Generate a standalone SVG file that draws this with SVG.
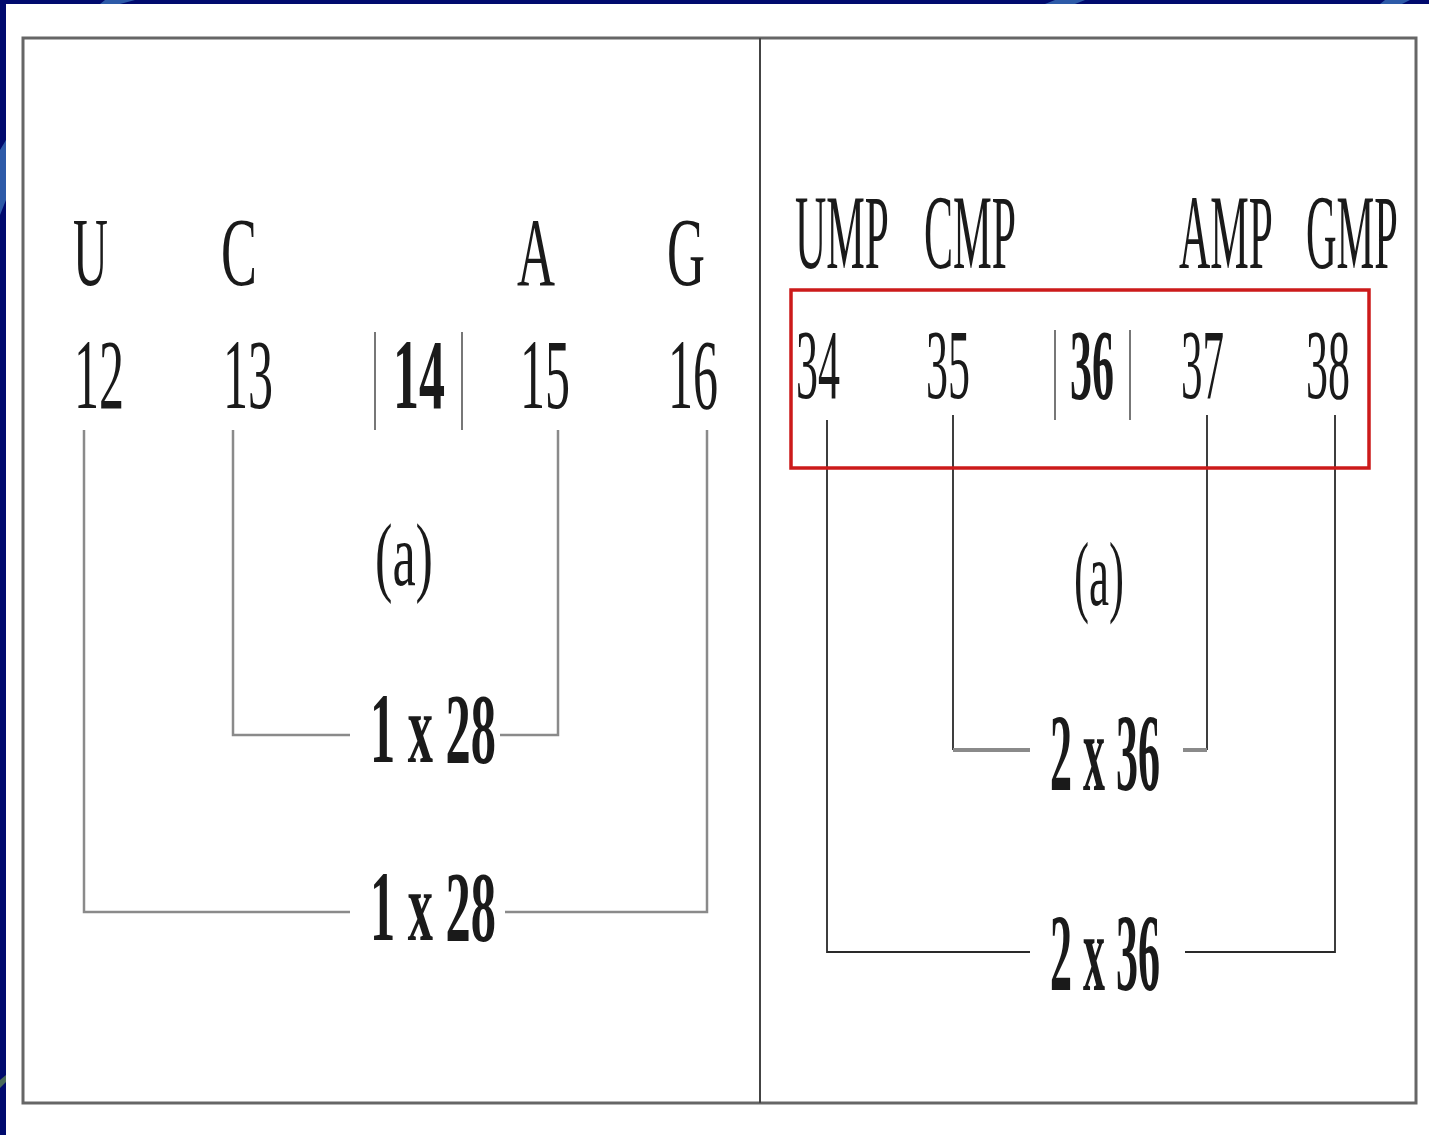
<svg xmlns="http://www.w3.org/2000/svg" width="1429" height="1135" viewBox="0 0 1429 1135">
  <style>
    .t { font-family: "Liberation Serif", "Times New Roman", serif; fill: #1a1a1a; }
    .b { font-weight: bold; }
    .frame { fill: none; stroke: #666; stroke-width: 3; }
    .lnL { stroke: #8a8a8a; stroke-width: 2.5; fill: none; }
    .lnR { stroke: #2a2a2a; stroke-width: 1.8; fill: none; }
    .bar { stroke: #555; stroke-width: 1.6; }
  </style>

  <!-- slide backdrop -->
  <rect x="0" y="0" width="1429" height="1135" fill="#000a6e"/>
  <path d="M105 0 L135 0 L120 4 L100 4 Z" fill="#2d5aa8"/>
  <path d="M1055 0 L1085 0 L1075 4 L1045 4 Z" fill="#2d5aa8"/>
  <path d="M1385 0 L1410 0 L1402 4 L1380 4 Z" fill="#2d5aa8"/>
  <path d="M0 150 L6 140 L6 200 L0 215 Z" fill="#2d5aa8"/>
  <path d="M0 1080 L6 1075 L6 1082 L0 1088 Z" fill="#4a6a5a"/>
  <rect x="6" y="4" width="1423" height="1131" fill="#ffffff"/>

  <!-- outer frame and divider -->
  <rect class="frame" x="23" y="38" width="1393" height="1065"/>
  <line x1="760" y1="38" x2="760" y2="1103" stroke="#444" stroke-width="2"/>

  <!-- connectors -->
  <g id="connectors">
    <!-- left panel -->
    <path class="lnL" d="M84 430 V912 H350"/>
    <path class="lnL" d="M505 912 H707 V430"/>
    <path class="lnL" d="M233 430 V735 H350"/>
    <path class="lnL" d="M500 735 H558 V430"/>
    <!-- right panel -->
    <path class="lnR" d="M827 420 V952 H1030"/>
    <path class="lnR" d="M1185 952 H1335 V415"/>
    <path class="lnR" d="M953 415 V750"/>
    <path class="lnR" d="M1207 415 V750"/>
    <line x1="953" y1="750" x2="1030" y2="750" stroke="#8a8a8a" stroke-width="4"/>
    <line x1="1183" y1="750" x2="1207" y2="750" stroke="#8a8a8a" stroke-width="4"/>
  </g>

  <!-- left panel: bases and positions (condensed serif via horizontal scale) -->
  <g id="base-U" transform="translate(73 285) scale(0.494 1)"><text class="t" font-size="98">U</text></g>
  <g id="base-C" transform="translate(221 285) scale(0.55 1)"><text class="t" font-size="98">C</text></g>
  <g id="base-A" transform="translate(517 285) scale(0.537 1)"><text class="t" font-size="98">A</text></g>
  <g id="base-G" transform="translate(667 285) scale(0.537 1)"><text class="t" font-size="98">G</text></g>

  <g id="pos-12" transform="translate(74 408) scale(0.5 1)"><text class="t" font-size="100">12</text></g>
  <g id="pos-13" transform="translate(223 408) scale(0.5 1)"><text class="t" font-size="100">13</text></g>
  <g id="pos-14">
    <line class="bar" x1="375" y1="332" x2="375" y2="430"/>
    <g transform="translate(393 408) scale(0.52 1)"><text class="t b" font-size="100">14</text></g>
    <line class="bar" x1="462" y1="332" x2="462" y2="430"/>
  </g>
  <g id="pos-15" transform="translate(520 408) scale(0.5 1)"><text class="t" font-size="100">15</text></g>
  <g id="pos-16" transform="translate(668 408) scale(0.5 1)"><text class="t" font-size="100">16</text></g>

  <g id="label-a-left" transform="translate(375 585) scale(0.594 1)"><text class="t" font-size="88">(a)</text></g>
  <g id="pair-inner-left" transform="translate(370 762) scale(0.504 1)"><text class="t b" font-size="100">1 x 28</text></g>
  <g id="pair-outer-left" transform="translate(370 940) scale(0.504 1)"><text class="t b" font-size="100">1 x 28</text></g>

  <!-- right panel: nucleotides and masses -->
  <g id="nuc-UMP" transform="translate(795 268) scale(0.409 1)"><text class="t" font-size="106">UMP</text></g>
  <g id="nuc-CMP" transform="translate(924 268) scale(0.411 1)"><text class="t" font-size="106">CMP</text></g>
  <g id="nuc-AMP" transform="translate(1179 268) scale(0.409 1)"><text class="t" font-size="106">AMP</text></g>
  <g id="nuc-GMP" transform="translate(1306 268) scale(0.40 1)"><text class="t" font-size="106">GMP</text></g>

  <g id="highlight"><rect x="791" y="290" width="578" height="178" fill="none" stroke="#cc1a1a" stroke-width="3.5"/></g>

  <g id="mass-34" transform="translate(796 398) scale(0.44 1)"><text class="t" font-size="100">34</text></g>
  <g id="mass-35" transform="translate(926 398) scale(0.44 1)"><text class="t" font-size="100">35</text></g>
  <g id="mass-36">
    <line class="bar" x1="1055" y1="330" x2="1055" y2="420"/>
    <g transform="translate(1070 398) scale(0.44 1)"><text class="t b" font-size="100">36</text></g>
    <line class="bar" x1="1130" y1="330" x2="1130" y2="420"/>
  </g>
  <g id="mass-37" transform="translate(1181 398) scale(0.43 1)"><text class="t" font-size="100">37</text></g>
  <g id="mass-38" transform="translate(1306 398) scale(0.44 1)"><text class="t" font-size="100">38</text></g>

  <g id="label-a-right" transform="translate(1074 605) scale(0.49 1)"><text class="t" font-size="92">(a)</text></g>
  <g id="pair-inner-right" transform="translate(1050 790) scale(0.40 1)"><text class="t b" font-size="110">2 x 36</text></g>
  <g id="pair-outer-right" transform="translate(1050 990) scale(0.40 1)"><text class="t b" font-size="110">2 x 36</text></g>
</svg>
